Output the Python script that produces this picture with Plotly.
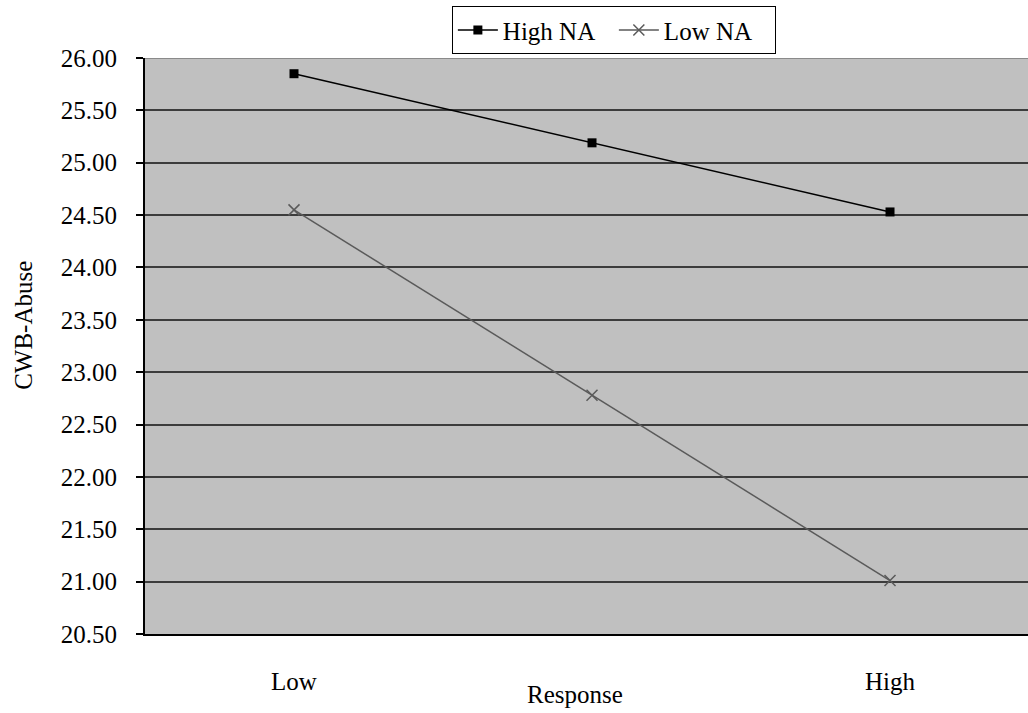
import plotly.graph_objects as go

# Response levels (x) and mean CWB-Abuse per negative-affect group
response_levels = ["Low", "Medium", "High"]
tick_text = ["Low", "", "High"]
high_na = [25.85, 25.19, 24.53]
low_na = [24.55, 22.78, 21.01]
y_ticks = [20.5 + 0.5 * i for i in range(12)]

x_pos = list(range(len(response_levels)))
font_family = "Liberation Serif"

fig = go.Figure()
fig.add_trace(go.Scatter(
    x=x_pos, y=high_na, name="High NA", mode="lines+markers",
    line=dict(color="black", width=1.5),
    marker=dict(symbol="square", size=9, color="black"),
))
fig.add_trace(go.Scatter(
    x=x_pos, y=low_na, name="Low NA", mode="lines+markers",
    line=dict(color="#5a5a5a", width=1.5),
    marker=dict(symbol="x-thin-open", size=11, line=dict(color="#5a5a5a", width=1.5)),
))

# lighter border along the top of the plotting area
fig.add_shape(type="line", xref="paper", yref="y", x0=0, x1=1, y0=26.0, y1=26.0,
              line=dict(color="#8a8a8a", width=2))

fig.update_layout(
    width=1028, height=713,
    margin=dict(l=145, r=0, t=58, b=79),
    paper_bgcolor="white", plot_bgcolor="#c0c0c0",
    font=dict(family=font_family, size=25, color="black"),
    showlegend=True,
    legend=dict(
        orientation="h", x=0.531, xanchor="center", y=1.09, yanchor="top",
        bgcolor="white", bordercolor="black", borderwidth=1,
        font=dict(family=font_family, size=25), itemwidth=40, tracegroupgap=0,
        entrywidth=106, entrywidthmode="pixels",
    ),
    xaxis=dict(
        range=[-0.5, 2.463], tickvals=x_pos, ticktext=tick_text,
        showgrid=False, zeroline=False, showline=True, linecolor="black", linewidth=2,
        ticks="", ticklabelstandoff=24, fixedrange=True,
        tickfont=dict(family=font_family, size=25),
    ),
    yaxis=dict(
        range=[20.5, 26.0], tickvals=y_ticks, tickformat=".2f",
        showgrid=True, gridcolor="#3c3c3c", gridwidth=1.6,
        zeroline=False, showline=True, linecolor="black", linewidth=2,
        ticks="outside", ticklen=7, tickcolor="black", tickwidth=1.5,
        ticklabelstandoff=14,
        tickfont=dict(family=font_family, size=25),
    ),
    annotations=[
        dict(text="Response", xref="paper", yref="paper", x=0.487, y=-0.105,
             xanchor="center", yanchor="middle", showarrow=False,
             font=dict(family=font_family, size=25)),
        dict(text="CWB-Abuse", xref="paper", yref="paper", x=-0.137, y=0.535,
             xanchor="center", yanchor="middle", textangle=-90, showarrow=False,
             font=dict(family=font_family, size=25)),
    ],
)

fig.write_html("out.html")
